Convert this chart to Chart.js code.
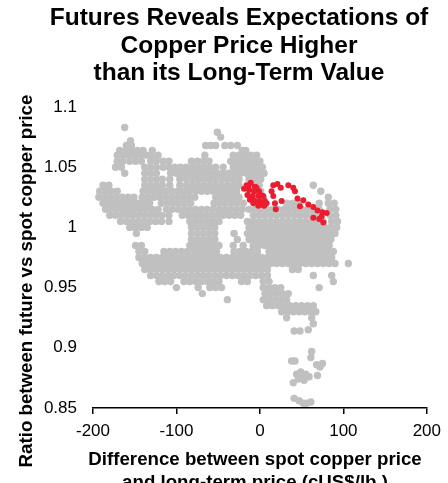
<!DOCTYPE html>
<html>
<head>
<meta charset="utf-8">
<script src="https://cdn.jsdelivr.net/npm/chart.js@4.4.1/dist/chart.umd.min.js"></script>
<style>
    html, body { margin: 0; padding: 0; background: #fff; }
    #contenedor { width: 448px; height: 483px; position: relative; }
</style>
</head>
<body>
<div id="contenedor"><canvas id="grafica-dispersion"></canvas></div>
<script>
// Textos
const titulo = ["Futures Reveals Expectations of", "Copper Price Higher", "than its Long-Term Value"];
const tituloX = ["Difference between spot copper price", "and long-term price (cUS$/lb.)"];
const tituloY = "Ratio between future vs spot copper price";

// Ejes
const ticksX = [-200, -100, 0, 100, 200];
const ticksY = [0.85, 0.9, 0.95, 1, 1.05, 1.1];
const etiquetasY = ["0.85", "0.9", "0.95", "1", "1.05", "1.1"];

// Puntos grises leidos por filas: [ratio, [diferencias...]]
const grisSuperior = [
    [1.083, [-162]],
    [1.079, [-51]],
    [1.075, [-47]],
    [1.072, [-155]],
    [1.068, [-160, -154, -65, -59, -53, -42, -35, -27]],
    [1.064, [-168, -161, -154, -147, -140, -129, -21, -17]],
    [1.060, [-171, -164, -157, -150, -143, -136, -129, -122, -66, -32, -25, -18, -11, -4]],
    [1.055, [-171, -164, -156, -149, -142, -131, -124, -116, -109, -82, -75, -68, -61, -35, -28, -21, -14, -7, 0]],
    [1.050, [-173, -166, -138, -131, -124, -116, -109, -102, -95, -88, -81, -74, -67, -60, -53, -44, -32, -25, -18, -11, -4, 3]],
    [1.045, [-162, -138, -131, -124, -107, -100, -93, -86, -79, -72, -65, -58, -51, -44, -37, -30, -23, -16, -9, -2, 5]]
];

const grisMedio = [
    [1.040, [-138, -131, -124, -117, -108, -96, -88, -81, -74, -67, -60, -53, -46, -39, -32, -25, -13, -6, 1]],
    [1.035, [-188, -181, -138, -131, -124, -117, -108, -96, -88, -81, -74, -67, -60, -53, -46, -39, -32, -25, -11, -1, 64]],
    [1.030, [-192, -185, -178, -171, -140, -133, -126, -119, -112, -105, -98, -91, -84, -77, -70, -63, -56, -49, -42, -35, -28, -6, 1, 73]],
    [1.025, [-193, -186, -179, -172, -165, -158, -151, -141, -134, -127, -120, -113, -106, -99, -92, -85, -78, -53, -46, -39, -32, -25, -8, 4, 82]],
    [1.020, [-188, -181, -174, -167, -160, -153, -146, -139, -132, -118, -111, -104, -97, -90, -83, -55, -48, -41, -34, -27, -20, 6, 32, 39, 46, 71, 82, 89]],
    [1.015, [-185, -178, -171, -164, -157, -150, -143, -136, -129, -122, -112, -105, -98, -91, -84, -77, -70, -63, -56, -49, -42, -35, -28, -21, -13, -6, 1, 8, 15, 22, 29, 36, 43, 50, 57, 64, 71, 84, 91]],
    [1.010, [-180, -173, -166, -159, -152, -145, -138, -131, -124, -117, -109, -93, -86, -79, -72, -65, -58, -51, -44, -37, -30, -23, -8, -1, 6, 13, 20, 27, 34, 41, 48, 55, 62, 69, 84, 91]],
    [1.005, [-167, -160, -153, -146, -139, -132, -125, -118, -109, -84, -77, -70, -63, -56, -49, -15, -8, -1, 6, 13, 20, 27, 34, 41, 48, 55, 62, 69, 76, 86, 93]],
    [1.000, [-156, -149, -142, -135, -82, -75, -68, -61, -54, -13, -6, 1, 8, 15, 22, 29, 36, 43, 50, 57, 64, 71, 78, 85, 92]],
    [0.995, [-148, -82, -75, -68, -61, -54, -31, -15, -8, -1, 6, 13, 20, 27, 34, 41, 48, 55, 62, 69, 76, 83, 90]],
    [0.990, [-82, -75, -68, -61, -54, -27, -13, -6, 1, 8, 15, 22, 29, 36, 43, 50, 57, 64, 71, 78, 85]]
];

const grisInferior = [
    [0.985, [-149, -142, -84, -77, -70, -63, -56, -49, -32, -20, -8, -1, 6, 13, 20, 27, 34, 41, 48, 55, 62, 69, 76, 83]],
    [0.980, [-145, -138, -115, -108, -101, -94, -87, -80, -73, -66, -59, -52, -31, -24, -17, -10, -3, 11, 18, 25, 32, 39, 46, 53, 60, 67, 74, 81, 88]],
    [0.975, [-145, -138, -131, -124, -117, -110, -103, -96, -89, -82, -75, -68, -61, -54, -47, -40, -33, -26, -19, -12, -5, 2, 9, 16, 23, 30, 37, 44, 51, 58, 65, 72, 79, 86]],
    [0.970, [-141, -134, -127, -120, -113, -106, -99, -92, -85, -78, -71, -64, -57, -50, -43, -36, -29, -22, -15, -8, -1, 6, 13, 20, 27, 34, 41, 48, 55, 62, 69, 76, 83, 90, 106]],
    [0.965, [-138, -131, -124, -117, -110, -103, -96, -89, -82, -75, -68, -61, -54, -47, -40, -33, -26, -19, -12, -5, 2, 9, 39, 46]],
    [0.960, [-131, -124, -117, -110, -103, -96, -89, -82, -75, -68, -61, -54, -47, -40, -33, -26, -19, -12, -5, 2, 9, 64, 86]],
    [0.955, [-121, -114, -107, -91, -84, -77, -70, -63, -56, -49, -22, -15, 4, 11, 88]],
    [0.950, [-100, -74, -60, -53, -46, 4, 11, 18, 25, 71]],
    [0.945, [-69, 6, 13, 20, 27, 34]],
    [0.940, [-39, 4, 11, 18, 25, 32]],
    [0.935, [8, 15, 22, 29, 36, 43, 50, 57, 64]],
    [0.930, [26, 33, 40, 47, 54, 61, 67]],
    [0.925, [32, 62]],
    [0.920, [64]]
];

// Cola de puntos sueltos abajo: [diferencia, ratio]
const colaGris = [
    [41, 0.914], [48, 0.914], [58, 0.915], [62, 0.897], [61, 0.892], [38, 0.889], [42, 0.889],
    [68, 0.886], [72, 0.884], [75, 0.887], [44, 0.878], [49, 0.880], [55, 0.878], [51, 0.875],
    [46, 0.874], [59, 0.876], [53, 0.873], [69, 0.877], [40, 0.871],
    [41, 0.858], [47, 0.856], [52, 0.854], [56, 0.854], [61, 0.855]
];

// Puntos rojos (periodo reciente): [diferencia, ratio]
const puntosRojos = [
    [-16, 1.035], [-11, 1.037], [-6, 1.034], [-13, 1.031], [-7, 1.030], [-1, 1.030], [-15, 1.027],
    [-9, 1.026], [-2, 1.026], [4, 1.026], [-6, 1.022], [0, 1.022], [6, 1.022], [8, 1.020],
    [2, 1.019], [-12, 1.023], [-4, 1.033], [-19, 1.032], [1, 1.027], [-8, 1.020], [-14, 1.034],
    [5, 1.018], [-2, 1.018],
    [16, 1.035], [21, 1.036], [25, 1.033], [14, 1.030], [16, 1.026], [18, 1.020], [19, 1.015], [26, 1.022],
    [34, 1.035], [40, 1.033], [42, 1.030], [45, 1.024],
    [52, 1.0225], [48, 1.0175], [58, 1.019], [64, 1.017], [69, 1.014], [75, 1.0125], [80, 1.012],
    [64, 1.008], [71, 1.007], [76, 1.004], [74, 1.009]
];

// Paso 1: pasar filas y pares a puntos {x, y}
function filasAPuntos(filas) {
    const puntos = [];
    filas.forEach(([y, xs]) => {
        xs.forEach(x => puntos.push({ x: x, y: y }));
    });
    return puntos;
}
const paresAPuntos = pares => pares.map(([x, y]) => ({ x: x, y: y }));

const datosGris = [
    ...filasAPuntos(grisSuperior),
    ...filasAPuntos(grisMedio),
    ...filasAPuntos(grisInferior),
    ...paresAPuntos(colaGris)
];
const datosRojo = paresAPuntos(puntosRojos);

const fuente = '"Liberation Sans", Arial, sans-serif';

// Paso 2: titulos dibujados a mano en el canvas
const textosPlugin = {
    id: 'textos',
    afterDraw(chart) {
        const ctx = chart.ctx;
        ctx.save();
        ctx.fillStyle = '#000';
        ctx.textAlign = 'center';
        ctx.textBaseline = 'alphabetic';

        ctx.font = 'bold 24.5px ' + fuente;
        titulo.forEach((linea, i) => ctx.fillText(linea, 239, 25 + i * 27.5));

        ctx.font = 'bold 18.7px ' + fuente;
        tituloX.forEach((linea, i) => ctx.fillText(linea, 255, 465 + i * 22.5));

        ctx.translate(31.5, 281);
        ctx.rotate(-Math.PI / 2);
        ctx.fillText(tituloY, 0, 0);
        ctx.restore();
    }
};

const ctx = document.getElementById("grafica-dispersion").getContext("2d");

const graficaDispersion = new Chart(ctx, {
    type: 'scatter',
    data: {
        datasets: [{
            label: 'Reciente',
            data: datosRojo,
            backgroundColor: '#ed1c2e',
            borderWidth: 0,
            pointRadius: 3,
            order: 0
        }, {
            label: 'Historico',
            data: datosGris,
            backgroundColor: '#c0c0c0',
            borderWidth: 0,
            pointRadius: 3.7,
            order: 1
        }]
    },
    options: {
        responsive: true,
        maintainAspectRatio: false,
        animation: false,
        events: [],
        layout: {
            padding: { top: 107, right: 15, left: 0, bottom: 0 }
        },
        plugins: {
            legend: { display: false },
            tooltip: { enabled: false },
            title: { display: false }
        },
        scales: {
            x: {
                type: 'linear',
                min: -200,
                max: 200,
                afterBuildTicks: escala => { escala.ticks = ticksX.map(v => ({ value: v })); },
                afterFit: escala => { escala.height = 75; },
                grid: {
                    display: true,
                    drawOnChartArea: false,
                    drawTicks: true,
                    tickLength: 6,
                    color: '#000',
                    lineWidth: 1.5
                },
                border: { display: true, color: '#000', width: 1.5 },
                ticks: {
                    color: '#000',
                    padding: 7,
                    maxRotation: 0,
                    font: { family: fuente, size: 17 },
                    callback: v => String(v)
                }
            },
            y: {
                type: 'linear',
                min: 0.85,
                max: 1.1,
                afterBuildTicks: escala => { escala.ticks = ticksY.map(v => ({ value: v })); },
                afterFit: escala => { escala.width = 93; },
                grid: { display: false, drawTicks: false },
                border: { display: false },
                ticks: {
                    color: '#000',
                    padding: 16,
                    font: { family: fuente, size: 17 },
                    callback: (v, i) => etiquetasY[i]
                }
            }
        }
    },
    plugins: [textosPlugin]
});
</script>
</body>
</html>
